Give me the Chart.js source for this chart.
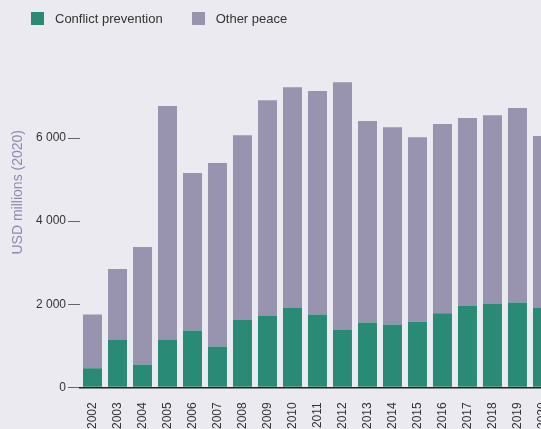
<!DOCTYPE html>
<html>
<head>
<meta charset="utf-8">
<script src="https://cdn.jsdelivr.net/npm/chart.js@4"></script>
<style>
  html, body { margin: 0; padding: 0; background: #ebeaf0; overflow: hidden; }
  body { width: 541px; height: 429px; position: relative; font-family: "Liberation Sans", Arial, sans-serif; }
  #wrap { position: absolute; left: 0; top: -12px; width: 572px; height: 458px; }
  .legend { position: absolute; top: 11px; left: 31px; display: flex; font-size: 13px; color: #333; z-index: 2; }
  .legend span.item { display: flex; align-items: center; margin-right: 29px; }
  .legend span.box { width: 13px; height: 13px; margin-right: 11px; display: inline-block; }
</style>
</head>
<body>
<div class="legend" id="legend"></div>
<div id="wrap"><canvas id="myChart"></canvas></div>
<script>
var years = ['2002', '2003', '2004', '2005', '2006', '2007', '2008', '2009', '2010', '2011',
    '2012', '2013', '2014', '2015', '2016', '2017', '2018', '2019', '2020'];
var conflictPrevention = [460, 1150, 550, 1150, 1370, 980, 1630, 1730, 1920, 1750,
    1390, 1560, 1510, 1580, 1780, 1970, 2020, 2040, 1920];
var otherPeace = [1290, 1700, 2830, 5620, 3790, 4420, 4440, 5180, 5300, 5380,
    5950, 4850, 4750, 4440, 4560, 4510, 4530, 4680, 4130];
var yTicks = [0, 2000, 4000, 6000];

var green = '#298b76';
var purple = '#9893ae';

// legend drawn as html so it sits where the original one does
var legend = document.getElementById('legend');
[['Conflict prevention', green], ['Other peace', purple]].forEach(function (it) {
    var s = document.createElement('span');
    s.className = 'item';
    s.innerHTML = '<span class="box" style="background:' + it[1] + '"></span>' + it[0];
    legend.appendChild(s);
});

Chart.defaults.font.family = '"Liberation Sans", Arial, sans-serif';
Chart.defaults.color = '#333';

var ctx = document.getElementById('myChart').getContext('2d');
new Chart(ctx, {
    type: 'bar',
    data: {
        labels: years,
        datasets: [{
            label: 'Conflict prevention',
            data: conflictPrevention,
            backgroundColor: green
        }, {
            label: 'Other peace',
            data: otherPeace,
            backgroundColor: purple
        }]
    },
    options: {
        responsive: true,
        maintainAspectRatio: false,
        animation: false,
        layout: { padding: { left: 2, right: 5, top: 0, bottom: 2 } },
        plugins: {
            legend: { display: false },
            tooltip: { enabled: false }
        },
        datasets: {
            bar: { categoryPercentage: 1, barPercentage: 0.76 }
        },
        scales: {
            x: {
                stacked: true,
                grid: { display: false, drawTicks: false },
                border: { display: true, color: '#222', width: 1.5 },
                ticks: { minRotation: 90, maxRotation: 90, padding: 15, font: { size: 12 } }
            },
            y: {
                stacked: true,
                min: 0,
                max: 9390,
                afterBuildTicks: function (axis) {
                    axis.ticks = yTicks.map(function (v) { return { value: v }; });
                },
                afterFit: function (axis) { axis.width = 78; },
                border: { display: false },
                grid: { drawOnChartArea: false, drawTicks: true, tickLength: 12, color: '#666' },
                ticks: {
                    padding: 2,
                    font: { size: 12 },
                    callback: function (v) { return String(v).replace(/\B(?=(\d{3})+(?!\d))/g, ' '); }
                },
                title: {
                    display: true,
                    text: 'USD millions (2020)',
                    color: '#8e8aae',
                    font: { size: 14 },
                    padding: 8
                }
            }
        }
    }
});
</script>
</body>
</html>
